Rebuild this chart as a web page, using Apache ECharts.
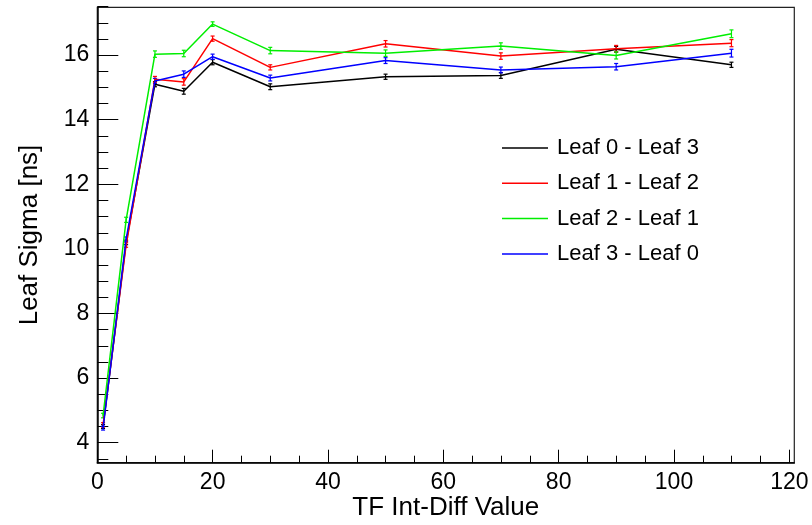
<!DOCTYPE html>
<html>
<head>
<meta charset="utf-8">
<script src="https://cdn.jsdelivr.net/npm/echarts@6/dist/echarts.min.js"></script>
<style>
html,body{margin:0;padding:0;background:#fff;}
#chart{width:812px;height:525px;}
</style>
</head>
<body>
<div id="chart"></div>
<script>
// ---- data ----
var xValues = [1, 5, 10, 15, 20, 30, 50, 70, 90, 110];
var seriesNames = ['Leaf 0 - Leaf 3', 'Leaf 1 - Leaf 2', 'Leaf 2 - Leaf 1', 'Leaf 3 - Leaf 0'];
var leaf0 = [4.50, 10.20, 15.10, 14.88, 15.78, 15.02, 15.33, 15.37, 16.18, 15.70];
var leaf1 = [4.55, 10.12, 15.25, 15.17, 16.51, 15.62, 16.35, 15.97, 16.20, 16.37];
var leaf2 = [4.84, 10.90, 16.03, 16.05, 16.96, 16.14, 16.06, 16.28, 15.99, 16.66];
var leaf3 = [4.45, 10.30, 15.20, 15.41, 15.95, 15.29, 15.83, 15.54, 15.64, 16.06];
var err0 = [0.06, 0.07, 0.08, 0.09, 0.08, 0.09, 0.08, 0.09, 0.09, 0.08];
var err1 = [0.07, 0.07, 0.09, 0.10, 0.08, 0.08, 0.10, 0.10, 0.10, 0.11];
var err2 = [0.07, 0.08, 0.10, 0.10, 0.07, 0.10, 0.10, 0.10, 0.11, 0.12];
var err3 = [0.06, 0.07, 0.08, 0.10, 0.08, 0.09, 0.09, 0.09, 0.10, 0.12];
var xTickMajor = 20, yTickMajor = 2;

var colors = ['#000000', '#ff0000', '#00ee00', '#0000ff'];
var values = [leaf0, leaf1, leaf2, leaf3];
var errors = [err0, err1, err2, err3];
var FONT = 'Liberation Sans, Arial, Helvetica, sans-serif';

function pts(v) { return xValues.map(function (x, i) { return [x, v[i]]; }); }
function errPts(v, e) { return xValues.map(function (x, i) { return [x, v[i], e[i]]; }); }

function renderErr(color) {
  return function (params, api) {
    var x = api.value(0), y = api.value(1), e = api.value(2);
    var lo = api.coord([x, y - e]), hi = api.coord([x, y + e]);
    var cw = 2;
    var st = { stroke: color, lineWidth: 1.2 };
    return {
      type: 'group',
      children: [
        { type: 'line', shape: { x1: lo[0], y1: lo[1], x2: hi[0], y2: hi[1] }, style: st },
        { type: 'line', shape: { x1: lo[0] - cw, y1: lo[1], x2: lo[0] + cw, y2: lo[1] }, style: st },
        { type: 'line', shape: { x1: hi[0] - cw, y1: hi[1], x2: hi[0] + cw, y2: hi[1] }, style: st }
      ]
    };
  };
}

var series = [];
values.forEach(function (v, k) {
  series.push({
    name: seriesNames[k], type: 'line', xAxisIndex: 0, yAxisIndex: 0,
    data: pts(v), showSymbol: false, symbol: 'none', animation: false,
    lineStyle: { color: colors[k], width: 1.5 }, itemStyle: { color: colors[k] }
  });
});
values.forEach(function (v, k) {
  series.push({
    name: seriesNames[k], type: 'custom', xAxisIndex: 0, yAxisIndex: 0,
    data: errPts(v, errors[k]), renderItem: renderErr(colors[k]), animation: false,
    itemStyle: { color: colors[k] }, z: 3
  });
});

var L = 97.3, R = 794.3, T = 7.3, B = 462.7;
var pxPerX = 5.767, pxPerY = 32.3;
var y4 = 442.7;

var option = {
  backgroundColor: '#fff',
  animation: false,
  grid: [
    { left: L, right: 812 - R, top: T, bottom: 525 - B, outerBoundsMode: 'none', containLabel: false,
      show: true, borderColor: '#222', borderWidth: 1.2, backgroundColor: 'transparent' },
    { left: L, width: 120 * pxPerX, top: y4 - 12 * pxPerY, height: 12 * pxPerY, outerBoundsMode: 'none', containLabel: false },
    { left: L, width: 120 * pxPerX, top: y4 - 13.5 * pxPerY, height: 14 * pxPerY, outerBoundsMode: 'none', containLabel: false }
  ],
  xAxis: [
    { gridIndex: 0, type: 'value', min: 0, max: 120.9, position: 'bottom',
      axisLine: { show: true, lineStyle: { color: '#000', width: 1.5 } },
      axisTick: { show: false }, axisLabel: { show: false }, splitLine: { show: false },
      name: 'TF Int-Diff Value', nameLocation: 'middle', nameGap: 32,
      nameTextStyle: { fontFamily: FONT, fontSize: 26, color: '#000' } },
    { gridIndex: 1, type: 'value', min: 0, max: 120, interval: xTickMajor, position: 'bottom', offset: B - y4,
      axisLine: { show: false },
      axisTick: { show: true, inside: true, length: 13, lineStyle: { color: '#000', width: 1 } },
      minorTick: { show: true, splitNumber: 4, length: 7, lineStyle: { color: '#000', width: 1 } },
      axisLabel: { show: true, margin: 8, fontFamily: FONT, fontSize: 23, color: '#000' },
      splitLine: { show: false } },
    { gridIndex: 2, type: 'value', min: 0, max: 120, show: false }
  ],
  yAxis: [
    { gridIndex: 0, type: 'value', min: 3.38, max: 17.48,
      axisLine: { show: true, lineStyle: { color: '#000', width: 1.5 } },
      axisTick: { show: false }, axisLabel: { show: false }, splitLine: { show: false },
      name: 'Leaf Sigma [ns]', nameLocation: 'middle', nameGap: 54,
      nameTextStyle: { fontFamily: FONT, fontSize: 26, color: '#000' } },
    { gridIndex: 1, type: 'value', min: 4, max: 16, interval: yTickMajor,
      axisLine: { show: false },
      axisTick: { show: true, inside: true, length: 21, lineStyle: { color: '#000', width: 1 } },
      minorTick: { show: false },
      axisLabel: { show: true, margin: 8, fontFamily: FONT, fontSize: 23, color: '#000' },
      splitLine: { show: false } },
    { gridIndex: 2, type: 'value', min: 3.5, max: 17.5, interval: 0.5,
      axisLine: { show: false },
      axisTick: { show: true, inside: true, length: 11, lineStyle: { color: '#000', width: 1 } },
      axisLabel: { show: false }, splitLine: { show: false } }
  ],
  legend: {
    data: seriesNames.map(function (n) { return { name: n, icon: 'rect' }; }),
    orient: 'vertical', left: 497, top: 131,
    itemWidth: 46, itemHeight: 1.5, itemGap: 11.3,
    textStyle: { fontFamily: FONT, fontSize: 22, color: '#000', lineHeight: 24, padding: [0, 0, 0, 4] },
    selectedMode: false
  },
  series: series
};

var chart = echarts.init(document.getElementById('chart'), null, { renderer: 'canvas' });
chart.setOption(option);
</script>
</body>
</html>
